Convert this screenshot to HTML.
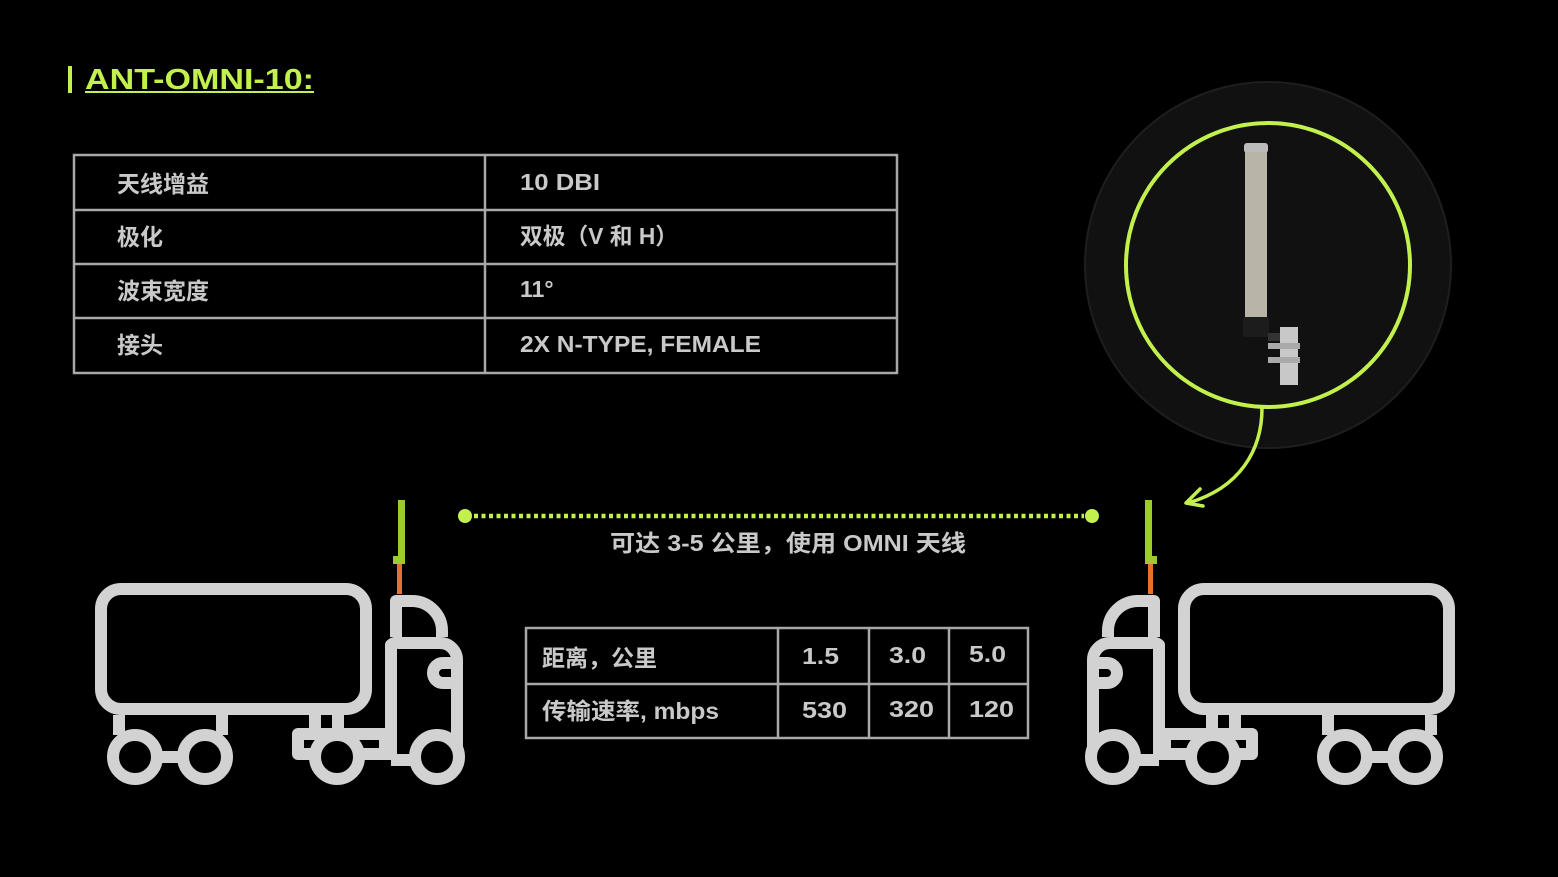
<!DOCTYPE html>
<html><head><meta charset="utf-8"><style>
html,body{margin:0;padding:0;background:#000;}
svg{display:block}
text{font-family:"Liberation Sans","Noto Sans CJK SC",sans-serif;font-weight:bold;fill:#c9c9c9;}
</style></head><body>
<svg width="1558" height="877" viewBox="0 0 1558 877" xmlns="http://www.w3.org/2000/svg">
<rect width="1558" height="877" fill="#000"/>
<!-- title -->
<rect x="68" y="66" width="4" height="27" fill="#c2f14e"/>
<text x="85" y="89" font-size="29" textLength="229" lengthAdjust="spacingAndGlyphs" style="fill:#c2f14e">ANT-OMNI-10:</text>
<rect x="85" y="91" width="229" height="2" fill="#c2f14e"/>

<!-- table 1 -->
<g fill="none" stroke="#a8a8a8" stroke-width="2.5">
<rect x="74" y="155" width="823" height="218"/>
<line x1="485" y1="155" x2="485" y2="373"/>
<line x1="74" y1="210" x2="897" y2="210"/>
<line x1="74" y1="264" x2="897" y2="264"/>
<line x1="74" y1="318" x2="897" y2="318"/>
</g>
<g font-size="23">
<text x="117" y="192">天线增益</text><text x="520" y="190" textLength="80" lengthAdjust="spacingAndGlyphs">10 DBI</text>
<text x="117" y="245">极化</text><text x="520" y="244" textLength="158" lengthAdjust="spacingAndGlyphs">双极（V 和 H）</text>
<text x="117" y="299">波束宽度</text><text x="520" y="297">11°</text>
<text x="117" y="353">接头</text><text x="520" y="352" textLength="241" lengthAdjust="spacingAndGlyphs">2X N-TYPE, FEMALE</text>
</g>

<!-- table 2 -->
<g fill="none" stroke="#a8a8a8" stroke-width="2.5">
<rect x="526" y="628" width="502" height="110"/>
<line x1="778" y1="628" x2="778" y2="738"/>
<line x1="869" y1="628" x2="869" y2="738"/>
<line x1="949" y1="628" x2="949" y2="738"/>
<line x1="526" y1="684" x2="1028" y2="684"/>
</g>
<g font-size="23">
<text x="542" y="666">距离，公里</text><text x="802" y="664" textLength="37" lengthAdjust="spacingAndGlyphs">1.5</text><text x="889" y="663" textLength="37" lengthAdjust="spacingAndGlyphs">3.0</text><text x="969" y="662" textLength="37" lengthAdjust="spacingAndGlyphs">5.0</text>
<text x="542" y="719" textLength="177" lengthAdjust="spacingAndGlyphs">传输速率, mbps</text><text x="802" y="718" textLength="45" lengthAdjust="spacingAndGlyphs">530</text><text x="889" y="717" textLength="45" lengthAdjust="spacingAndGlyphs">320</text><text x="969" y="717" textLength="45" lengthAdjust="spacingAndGlyphs">120</text>
</g>

<!-- dotted link -->
<line x1="474" y1="516" x2="1084" y2="516" stroke="#c2f14e" stroke-width="4.5" stroke-dasharray="4 3.5"/>
<circle cx="465" cy="516" r="7" fill="#c2f14e"/>
<circle cx="1092" cy="516" r="7" fill="#c2f14e"/>
<text x="610" y="551" font-size="23" textLength="356" lengthAdjust="spacingAndGlyphs">可达 3-5 公里，使用 OMNI 天线</text>

<!-- truck left -->
<g id="truck">
<g fill="none" stroke="#d2d2d2" stroke-width="12" stroke-linejoin="round">
<rect x="101" y="589" width="265" height="120" rx="20"/>
<line x1="119" y1="715" x2="119" y2="735"/>
<line x1="222" y1="715" x2="222" y2="735"/>
<circle cx="135" cy="757" r="22"/>
<circle cx="205" cy="757" r="22"/>
<line x1="157" y1="757" x2="183" y2="757"/>
<path d="M396 637 V601 H412 A30 30 0 0 1 442 631 V637"/>
<path d="M391 760 V645 A8 8 0 0 1 399 643 H440 A17 17 0 0 1 457 660 V760 H391"/>
<path d="M457 663 H443 A10 10 0 0 0 443 683 H457"/>
<rect x="298" y="734" width="87" height="20"/>
<line x1="315" y1="715" x2="315" y2="734"/>
<line x1="338" y1="715" x2="338" y2="734"/>
<circle cx="337" cy="757" r="22" fill="#000"/>
<circle cx="437" cy="757" r="22" fill="#000"/>
</g>
<rect x="398" y="500" width="7" height="64" fill="#9ccc2c"/>
<rect x="393" y="556" width="12" height="8" fill="#9ccc2c"/>
<rect x="397" y="564" width="5" height="30" fill="#e8702a"/>
</g>
<use href="#truck" transform="translate(1550,0) scale(-1,1)"/>

<!-- antenna circle -->
<circle cx="1268" cy="265" r="183" fill="#111" stroke="#1e1e1e" stroke-width="2"/>
<circle cx="1268" cy="265" r="142" fill="none" stroke="#c2f14e" stroke-width="4"/>
<rect x="1244" y="143" width="24" height="10" rx="3" fill="#bbb"/>
<rect x="1245" y="152" width="22" height="166" fill="#b8b4a8"/>
<rect x="1243" y="317" width="26" height="20" rx="2" fill="#1c1c1c"/>
<rect x="1268" y="333" width="16" height="8" fill="#333"/>
<rect x="1280" y="327" width="18" height="58" fill="#c8c8c8"/>
<rect x="1268" y="343" width="32" height="6" fill="#aaa"/>
<rect x="1268" y="357" width="32" height="6" fill="#aaa"/>
<path d="M1262 408 C1262 450 1240 488 1188 503" fill="none" stroke="#c2f14e" stroke-width="3.5"/>
<path d="M1200 489 L1186 503 L1203 506" fill="none" stroke="#c2f14e" stroke-width="3.5" stroke-linecap="round" stroke-linejoin="round"/>
</svg>
</body></html>
